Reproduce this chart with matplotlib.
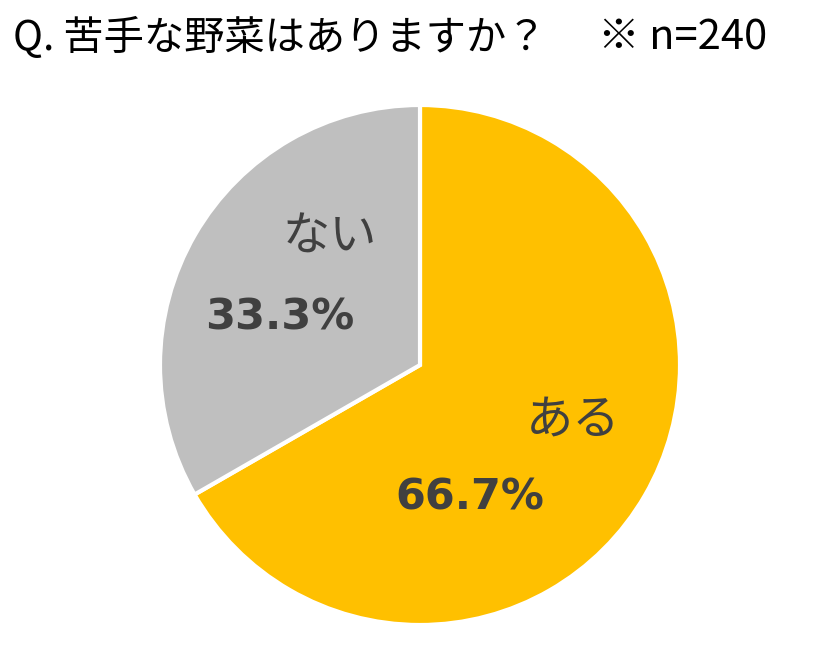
import matplotlib
matplotlib.use('Agg')
import matplotlib.pyplot as plt

plt.rcParams['font.family'] = ['Noto Sans CJK JP', 'DejaVu Sans']

labels = ['ある', 'ない']
shares = [66.7, 33.3]
colors = ['#FFC000', '#BFBFBF']

fig = plt.figure(figsize=(8.34, 6.55), dpi=100)
# pie box in pixels: x 160..680, y 105..625 (from top)
ax = fig.add_axes([160 / 834, 30 / 655, 520 / 834, 520 / 655])
wedges, _ = ax.pie(shares, colors=colors, startangle=90, counterclock=False,
                   wedgeprops=dict(edgecolor='white', linewidth=3))
for w in wedges:
    w.set_clip_on(False)
ax.set_xlim(-1, 1)
ax.set_ylim(-1, 1)
ax.set_aspect('equal')
ax.axis('off')

# label spots (name, percent) for each slice
name_pos = [(0.588, -0.212), (-0.346, 0.492)]
pct_pos = [(0.192, -0.508), (-0.538, 0.181)]
for i in range(len(labels)):
    ax.text(*name_pos[i], labels[i], ha='center', va='center',
            fontsize=34, color='#404040')
    ax.text(*pct_pos[i], '%.1f%%' % shares[i], ha='center', va='center',
            fontsize=31, fontweight='bold', color='#404040',
            family='DejaVu Sans')

fig.text(13 / 834, 1 - 38 / 655, 'Q. 苦手な野菜はありますか？', ha='left', va='center',
         fontsize=29, color='black')
fig.text(598 / 834, 1 - 38 / 655, '※ n=240', ha='left', va='center',
         fontsize=30, color='black')

fig.savefig('out.png', dpi=100)
